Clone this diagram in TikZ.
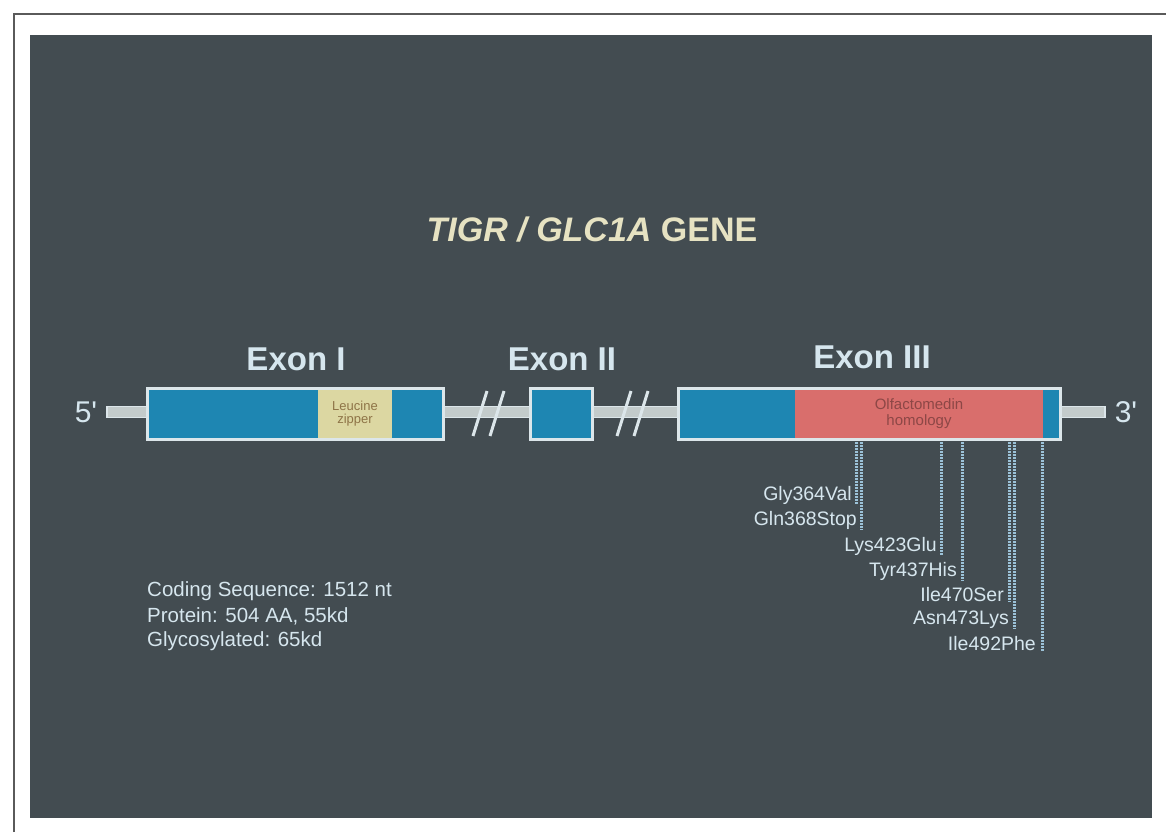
\documentclass[tikz,border=0pt]{standalone}
\usepackage{fontspec}
\setmainfont{Liberation Sans}
\setsansfont{Liberation Sans}
\definecolor{panel}{HTML}{434C51}
\definecolor{exblue}{HTML}{1E86B2}
\definecolor{zipper}{HTML}{DCD7A2}
\definecolor{olf}{HTML}{D96E6C}
\definecolor{rim}{HTML}{DCE6EA}
\definecolor{bone}{HTML}{C3CBCB}
\definecolor{labtxt}{HTML}{D6E6EE}
\definecolor{titletxt}{HTML}{E6E2C2}
\definecolor{mutline}{HTML}{9CC2D8}
\definecolor{frameline}{HTML}{5A5A5A}
\definecolor{zippertxt}{HTML}{8E7447}
\tikzset{
  part/.style={inner sep=0pt, outer sep=0pt, anchor=west, minimum height=51pt},
  rimbox/.style={draw=rim, line width=3pt, inner sep=0pt, outer sep=0pt, anchor=west, minimum height=51pt},
  exonlabel/.style={text=labtxt, font=\fontsize{33}{38}\selectfont\bfseries, inner sep=0pt},
  endlabel/.style={text=labtxt, font=\fontsize{30}{34}\selectfont, inner sep=0pt},
  mutlabel/.style={text=labtxt, font=\fontsize{19.5}{22}\selectfont, inner sep=0pt, anchor=east},
  infolabel/.style={text=labtxt, font=\fontsize{20.5}{24}\selectfont, inner sep=0pt, anchor=west},
  mutation/.style={draw=mutline, line width=3pt, dash pattern=on 1.6pt off 1.4pt},
  breakmark/.style={draw=rim, line width=3pt},
}
\begin{document}
\begin{tikzpicture}[x=1pt,y=-1pt]
\useasboundingbox (0,0) rectangle (1166,832);
% outer frame
\draw[frameline, line width=1.5pt] (14,832) -- (14,14) -- (1166,14);
% panel
\fill[panel] (30,35) rectangle (1152,818);
% title
\node[text=titletxt, font=\fontsize{34}{40}\selectfont\bfseries, inner sep=0pt] (title) at (592,230) {\itshape TIGR / GLC1A \upshape GENE};
% backbone
\draw[draw=rim, fill=bone, line width=1.5pt] (107,406.5) rectangle (1105,417.5);
% break marks
\draw[breakmark] (473,436) -- (487,391);
\draw[breakmark] (490,436) -- (504,391);
\draw[breakmark] (617,436) -- (631,391);
\draw[breakmark] (634,436) -- (648,391);
% Exon I
\node[part, fill=exblue, minimum width=171pt] (e1a) at (147,414) {};
\node[part, fill=zipper, minimum width=74pt, font=\fontsize{13}{14}\selectfont, text=zippertxt, align=center] (e1z) at (318,414) {Leucine\\[-1pt]zipper};
\node[part, fill=exblue, minimum width=51pt] (e1b) at (392,414) {};
\node[rimbox, minimum width=296pt] (exon1) at (147,414) {};
% Exon II
\node[part, fill=exblue, minimum width=62pt] (e2a) at (530,414) {};
\node[rimbox, minimum width=62pt] (exon2) at (530,414) {};
% Exon III
\node[part, fill=exblue, minimum width=117pt] (e3a) at (678,414) {};
\node[part, fill=olf, minimum width=248pt, font=\fontsize{15}{16}\selectfont, text=olf!65!black, align=center] (e3o) at (795,414) {Olfactomedin\\[0pt]homology};
\node[part, fill=exblue, minimum width=17pt] (e3b) at (1043,414) {};
\node[rimbox, minimum width=382pt] (exon3) at (678,414) {};
% exon labels
\node[exonlabel] (lab1) at (296,359) {Exon \textrm{I}};
\node[exonlabel] (lab2) at (562,359) {Exon \textrm{II}};
\node[exonlabel] (lab3) at (872,357) {Exon \textrm{III}};
% ends
\node[endlabel] (five) at (86,412) {5\textquotesingle};
\node[endlabel] (three) at (1126,412) {3\textquotesingle};
% mutations
\node[mutlabel] (m1) at (852,495) {Gly364Val};
\node[mutlabel] (m2) at (857,520) {Gln368Stop};
\node[mutlabel] (m3) at (937,546) {Lys423Glu};
\node[mutlabel] (m4) at (957,571) {Tyr437His};
\node[mutlabel] (m5) at (1004,595) {Ile470Ser};
\node[mutlabel] (m6) at (1009,620) {Asn473Lys};
\node[mutlabel] (m7) at (1036,644) {Ile492Phe};
\foreach \m/\x in {m1/856,m2/861,m3/941,m4/962,m5/1009,m6/1014,m7/1042}{
  \draw[mutation] (\x,442) -- (\x,0 |- \m.south);
}
% info text
\node[infolabel] (info1) at (147,591) {Coding Sequence: 1512 nt};
\node[infolabel] (info2) at (147,616) {Protein: 504 AA, 55kd};
\node[infolabel] (info3) at (147,641) {Glycosylated: 65kd};
\end{tikzpicture}
\end{document}
